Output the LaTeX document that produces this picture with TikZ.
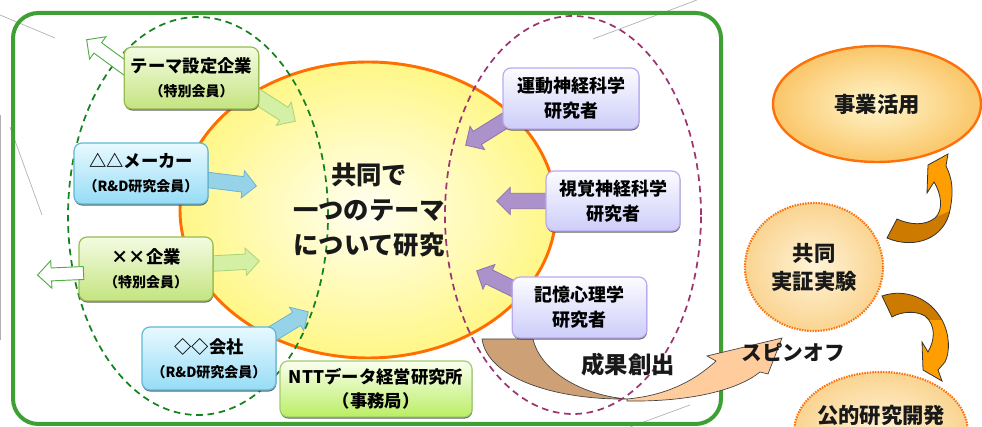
\documentclass[tikz,border=0pt]{standalone}
\usepackage{fontspec}
\setmainfont{Noto Sans CJK JP}
\usetikzlibrary{shapes.geometric,shapes.arrows,calc,shadows}
\definecolor{frameG}{RGB}{62,160,52}
\definecolor{dashG}{RGB}{20,130,30}
\definecolor{dashP}{RGB}{158,52,112}
\definecolor{coreBd}{RGB}{255,110,0}
\definecolor{coreY}{RGB}{255,247,135}
\definecolor{coreIn}{RGB}{255,255,242}
\definecolor{gTop}{RGB}{244,251,226}
\definecolor{gBot}{RGB}{196,228,128}
\definecolor{gBd}{RGB}{150,188,80}
\definecolor{bTop}{RGB}{232,249,255}
\definecolor{bBot}{RGB}{150,220,246}
\definecolor{bBd}{RGB}{95,185,215}
\definecolor{lTop}{RGB}{250,255,238}
\definecolor{lBot}{RGB}{186,238,100}
\definecolor{lBd}{RGB}{160,205,110}
\definecolor{pTop}{RGB}{252,252,255}
\definecolor{pBot}{RGB}{205,205,250}
\definecolor{pBd}{RGB}{185,170,240}
\definecolor{arrG}{RGB}{212,240,165}
\definecolor{arrGd}{RGB}{170,210,120}
\definecolor{arrB}{RGB}{150,210,232}
\definecolor{arrBd}{RGB}{110,180,210}
\definecolor{arrP}{RGB}{172,146,202}
\definecolor{arrPd}{RGB}{140,115,175}
\definecolor{outG}{RGB}{80,175,70}
\definecolor{swBrown}{RGB}{205,160,118}
\definecolor{swPale}{RGB}{255,204,158}
\definecolor{ellIn}{RGB}{255,246,205}
\definecolor{ellOut}{RGB}{250,198,105}
\definecolor{cirIn}{RGB}{255,244,215}
\definecolor{cirOut}{RGB}{250,212,145}
\definecolor{ringBd}{RGB}{255,112,10}
\definecolor{crvDark}{RGB}{204,122,0}
\definecolor{crvLight}{RGB}{255,158,0}
\definecolor{ghost}{RGB}{175,175,175}
\newcommand\mysub{\fontsize{10.5}{13}\selectfont}
\begin{document}
\begin{tikzpicture}[x=0.75pt,y=-0.75pt,
  box/.style={rounded corners=6pt, line width=0.9pt, align=center, inner sep=0pt,
    font=\bfseries\fontsize{13}{18}\selectfont,
    drop shadow={shadow xshift=0.3pt, shadow yshift=-1.2pt, fill=black!75, opacity=0.8}},
  greenbox/.style={box, draw=gBd, top color=gTop, bottom color=gBot},
  bluebox/.style={box, draw=bBd, top color=bTop, bottom color=bBot},
  limebox/.style={box, draw=lBd, top color=lTop, bottom color=lBot},
  purplebox/.style={box, draw=pBd, top color=pTop, bottom color=pBot,
    font=\bfseries\fontsize{13.5}{19}\selectfont},
  blk/.style={to path={let \p1=($(\tikztotarget)-(\tikztostart)$),
      \n1={atan2(\y1,\x1)}, \n2={veclen(\x1,\y1)} in
      node[single arrow, anchor=tail, rotate=\n1, minimum height=\n2,
        inner xsep=0pt, inner ysep=5.5pt, single arrow head extend=4.5pt,
        line width=0.6pt, #1] at (\tikztostart) {}}},
  greenarrow/.style={blk={fill=arrG, draw=arrGd}},
  bluearrow/.style={blk={fill=arrB, draw=arrBd}},
  purplearrow/.style={blk={fill=arrP, draw=arrPd}},
  openarrow/.style={blk={fill=white, draw=outG, line width=0.7pt, inner ysep=4.5pt, single arrow head extend=5.5pt}},
  dashring/.style={ellipse, inner sep=0pt, line width=1.3pt, dash pattern=on 5pt off 3.5pt},
  label/.style={font=\bfseries\fontsize{16}{21}\selectfont, align=center, text=black!90},
  ghostline/.style={draw=ghost, line width=0.5pt}
]
\useasboundingbox (0,0) rectangle (982,427);
\clip (0,0) rectangle (982,427);

% faint stray lines
\draw[ghostline] (0,15) -- (55,38);
\draw[ghostline] (0.5,115) -- (0.5,340);
\draw[ghostline] (10,127) -- (42,215);
\draw[ghostline] (593,39) -- (697,0);
\draw[ghostline] (630,427) -- (690,405);

% frame
\draw[frameG, line width=3pt, rounded corners=19pt] (13,13) rectangle (721,424);

% central circle
\node[ellipse, minimum width=282pt, minimum height=222pt, inner sep=0pt,
      draw=coreBd, line width=2.2pt, inner color=coreIn, outer color=coreY] (core) at (368,210) {};

% swoosh (成果創出 -> スピンオフ)
\fill[swBrown, draw=black!75, line width=0.5pt]
  (482,339) -- (533,339) .. controls (540,370) and (580,395) .. (627,399)
  .. controls (560,400) and (488,380) .. (482,339) -- cycle;
\fill[swPale, draw=black!75, line width=0.5pt]
  (627,401) .. controls (690,402) and (738,390) .. (760,372) -- (768,374) -- (782,338)
  -- (707,356) -- (716,361) .. controls (690,385) and (660,396) .. (627,399) -- cycle;

% dashed groupings
\node[dashring, draw=dashG, minimum width=195pt, minimum height=298.5pt] (leftring) at (198,216) {};
\node[dashring, draw=dashP, minimum width=192pt, minimum height=298.5pt] (rightring) at (573,215) {};

% arrow end points
\coordinate (a1s) at (250,92);  \coordinate (a1t) at (295,121);
\coordinate (a2s) at (132,73);  \coordinate (a2t) at (87,40);
\coordinate (a3s) at (200,179); \coordinate (a3t) at (256,186);
\coordinate (a4s) at (205,264); \coordinate (a4t) at (259,261);
\coordinate (a5s) at (84,273);  \coordinate (a5t) at (38,275);
\coordinate (a6s) at (262,340); \coordinate (a6t) at (308,312);
\coordinate (a7s) at (514,115); \coordinate (a7t) at (466,145);
\coordinate (a8s) at (552,201); \coordinate (a8t) at (497,201);
\coordinate (a9s) at (522,293); \coordinate (a9t) at (477,271);

\path (a1s) to[greenarrow] (a1t);
\path (a2s) to[openarrow] (a2t);
\path (a3s) to[bluearrow] (a3t);
\path (a4s) to[greenarrow] (a4t);
\path (a6s) to[bluearrow] (a6t);
\path (a7s) to[purplearrow] (a7t);
\path (a8s) to[purplearrow] (a8t);
\path (a9s) to[purplearrow] (a9t);

% member boxes
\node[greenbox, minimum width=101pt, minimum height=46.5pt] (theme) at (191.5,78)
  {テーマ設定企業\\{\mysub（特別会員）}};
\node[bluebox, minimum width=100.5pt, minimum height=45.75pt] (maker) at (141,173.5)
  {△△メーカー\\{\mysub（R\&D研究会員）}};
\node[greenbox, minimum width=100.5pt, minimum height=48pt] (corp) at (146,269)
  {××企業\\{\mysub（特別会員）}};
\node[bluebox, minimum width=100.5pt, minimum height=47.25pt] (firm) at (209,358.5)
  {◇◇会社\\{\mysub（R\&D研究会員）}};
\path (a5s) to[openarrow] (a5t);
\node[limebox, minimum width=144pt, minimum height=42pt,
      font=\bfseries\fontsize{13}{18}\selectfont] (office) at (376,389)
  {NTTデータ経営研究所\\（事務局）};

% researcher boxes
\node[purplebox, minimum width=102pt, minimum height=45.75pt] (motor) at (571,98.5) {運動神経科学\\研究者};
\node[purplebox, minimum width=100.5pt, minimum height=45pt] (vision) at (613,201) {視覚神経科学\\研究者};
\node[purplebox, minimum width=101pt, minimum height=45.75pt] (memory) at (579.5,307.5) {記憶心理学\\研究者};

% central text
\node[font=\bfseries\fontsize{19}{26}\selectfont, align=center, text=black!90] (coretext) at (369,210)
  {共同で\\一つのテーマ\\について研究};

% outcome labels
\node[font=\bfseries\fontsize{17.5}{22}\selectfont, text=black!90] (seika) at (628,365) {成果創出};
\node[font=\bfseries\fontsize{15.5}{20}\selectfont, text=black!90] (spin) at (793,352) {スピンオフ};

% right side ellipses
\node[ellipse, label, minimum width=156pt, minimum height=87pt, inner sep=0pt,
      draw=ringBd, line width=1.8pt, inner color=ellIn, outer color=ellOut] (biz) at (877,104) {事業活用};
\node[ellipse, label, minimum width=103.5pt, minimum height=96pt, inner sep=0pt,
      draw=ringBd, line width=1.6pt, dash pattern=on 1.1pt off 0.9pt,
      inner color=cirIn, outer color=cirOut] (joint) at (814,267) {共同\\実証実験};
\node[ellipse, minimum width=130pt, minimum height=88.5pt, inner sep=0pt,
      draw=ringBd, line width=1.6pt, dash pattern=on 1.1pt off 0.9pt,
      inner color=cirIn, outer color=cirOut] (pub) at (881,431) {};
\node[label] (pubtext) at (881,415) {公的研究開発};

% curved arrows on the right
\def\uparrowpath{(887,238) .. controls (915,250) and (945,238) .. (950,210)
  .. controls (954,190) and (952,178) .. (946,166) -- (948,154) -- (928,165) -- (927,193)
  -- (934,182) .. controls (941,193) and (944,210) .. (935,218)
  .. controls (925,226) and (910,225) .. (897,219) -- cycle}
\def\downarrowpath{(882,296) .. controls (905,288) and (930,298) .. (942,320)
  .. controls (950,335) and (950,352) .. (945,362) -- (938,370) -- (942,381) -- (923,370)
  -- (922,342) -- (928,352) .. controls (935,340) and (936,325) .. (925,316)
  .. controls (915,310) and (900,312) .. (892,317) -- cycle}
\fill[crvLight] \uparrowpath;
\begin{scope}
  \clip \uparrowpath;
  \fill[crvDark] (870,190) -- (936,190) -- (936,217) -- (955,209) -- (960,260) -- (870,260) -- cycle;
\end{scope}
\draw[black!80, line width=0.6pt] \uparrowpath;
\fill[crvLight] \downarrowpath;
\begin{scope}
  \clip \downarrowpath;
  \fill[crvDark] (870,280) rectangle (960,320);
\end{scope}
\draw[black!80, line width=0.6pt] \downarrowpath;
\end{tikzpicture}
\end{document}
